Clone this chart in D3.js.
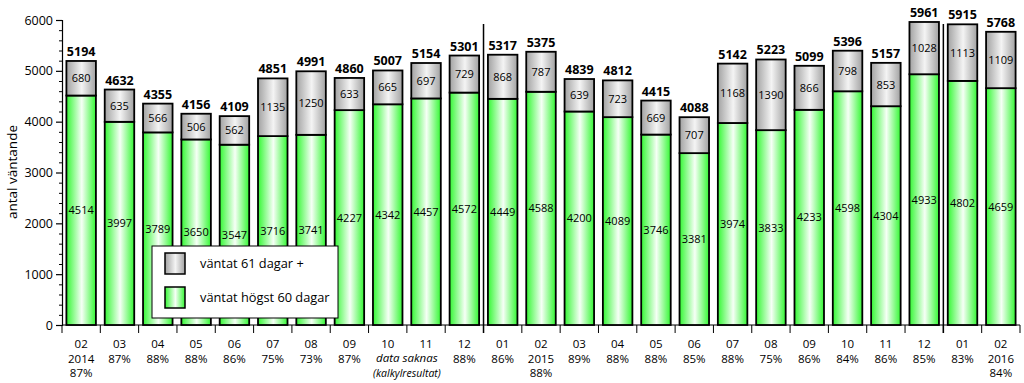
<!DOCTYPE html>
<html><head><meta charset="utf-8">
<script src="https://cdn.jsdelivr.net/npm/d3@7"></script>
<style>body{margin:0;background:#fff}svg{display:block}text{font-family:"Open Sans",sans-serif}</style>
</head><body><svg id="c" width="1024" height="383"></svg>
<script>
const months = ["02","03","04","05","06","07","08","09","10","11","12","01","02","03","04","05","06","07","08","09","10","11","12","01","02"];
const line2 = ["2014","87%","88%","88%","86%","75%","73%","87%","","","88%","86%","2015","89%","88%","88%","85%","88%","75%","86%","84%","86%","85%","83%","2016"];
const line3 = ["87%","","","","","","","","","","","","88%","","","","","","","","","","","","84%"];
const under60 = [4514,3997,3789,3650,3547,3716,3741,4227,4342,4457,4572,4449,4588,4200,4089,3746,3381,3974,3833,4233,4598,4304,4933,4802,4659];
const over61 = [680,635,566,506,562,1135,1250,633,665,697,729,868,787,639,723,669,707,1168,1390,866,798,853,1028,1113,1109];
const totals = [5194,4632,4355,4156,4109,4851,4991,4860,5007,5154,5301,5317,5375,4839,4812,4415,4088,5142,5223,5099,5396,5157,5961,5915,5768];
const yTicks = [0,1000,2000,3000,4000,5000,6000];
const yearBreaks = [11, 23];
const noteText = ["data saknas","(kalkylresultat)"];
const noteBetween = [8, 9];
const legendLabels = ["väntat 61 dagar +","väntat högst 60 dagar"];
const yLabel = "antal väntande";

const svg = d3.select("#c");
const L = 62, R = 1020, T = 20, B = 325;
const idx = d3.range(months.length);
const x = d3.scaleBand().domain(idx).range([L, R]).paddingInner(0.23).paddingOuter(0.115);
const y = d3.scaleLinear().domain([0, 6000]).range([B, T]);

const defs = svg.append("defs");
function grad(id, edge, mid){
  const g = defs.append("linearGradient").attr("id", id).attr("x1","0%").attr("x2","100%");
  g.append("stop").attr("offset","0%").attr("stop-color", edge);
  g.append("stop").attr("offset","52%").attr("stop-color", mid);
  g.append("stop").attr("offset","100%").attr("stop-color", edge);
}
grad("gG", "#34f834", "#f6fff6");
grad("gR", "#a2a2a2", "#f4f4f4");

// y axis
const ya = svg.append("g").attr("transform", `translate(${L},0)`)
  .call(d3.axisLeft(y).tickValues(yTicks).tickSize(6).tickPadding(3).tickFormat(d3.format("d")));
ya.selectAll("text").attr("font-size", 12.5).attr("fill", "#000").attr("font-family", '"Open Sans",sans-serif');
ya.select(".domain").attr("stroke", "#000").attr("stroke-width", 1.2);
ya.selectAll(".tick line").attr("stroke", "#000").attr("stroke-width", 1.2);
const minor = svg.append("g").attr("transform", `translate(${L},0)`)
  .call(d3.axisLeft(y).tickValues(d3.range(0, 6001, 200).filter(v => v % 1000)).tickSize(3).tickFormat(""));
minor.select(".domain").remove();
minor.selectAll(".tick line").attr("stroke", "#000").attr("stroke-width", 1);

svg.append("text").attr("transform", `translate(17,172) rotate(-90)`)
  .attr("text-anchor", "middle").attr("font-size", 13.5).text(yLabel);

// x axis
svg.append("line").attr("x1", L).attr("x2", R).attr("y1", B).attr("y2", B).attr("stroke", "#000").attr("stroke-width", 1.2);
const step = x.step();
const bounds = d3.range(months.length + 1).map(i => L + i * step);
svg.append("g").selectAll("line").data(bounds).join("line")
  .attr("x1", d => d).attr("x2", d => d).attr("y1", B).attr("y2", B + 8)
  .attr("stroke", "#000").attr("stroke-width", 1);

const xl = svg.append("g").attr("font-size", 11.5).attr("text-anchor", "middle");
idx.forEach(i => {
  const cx = x(i) + x.bandwidth() / 2;
  [months[i], line2[i], line3[i]].forEach((t, k) => {
    if (t) xl.append("text").attr("x", cx).attr("y", 348 + k * 14.5).text(t);
  });
});
const nx = (x(noteBetween[0]) + x(noteBetween[1]) + x.bandwidth()) / 2;
noteText.forEach((t, k) => {
  xl.append("text").attr("x", nx).attr("y", 362 + k * 14.5).attr("font-style", "italic")
    .attr("font-size", k ? 10.5 : 11.5).text(t);
});

// bars
const bars = svg.append("g");
idx.forEach(i => {
  const bx = x(i), bw = x.bandwidth();
  bars.append("rect").attr("x", bx).attr("width", bw).attr("y", y(under60[i])).attr("height", y(0) - y(under60[i]))
    .attr("fill", "url(#gG)").attr("stroke", "#000").attr("stroke-width", 1.8);
  bars.append("rect").attr("x", bx).attr("width", bw).attr("y", y(under60[i] + over61[i])).attr("height", y(under60[i]) - y(under60[i] + over61[i]))
    .attr("fill", "url(#gR)").attr("stroke", "#000").attr("stroke-width", 1.8);
  const cx = bx + bw / 2;
  bars.append("text").attr("x", cx).attr("y", (y(0) + y(under60[i])) / 2 + 4).attr("text-anchor", "middle")
    .attr("font-size", 11).text(under60[i]);
  bars.append("text").attr("x", cx).attr("y", (y(under60[i]) + y(under60[i] + over61[i])) / 2 + 4).attr("text-anchor", "middle")
    .attr("font-size", 11).text(over61[i]);
  bars.append("text").attr("x", cx).attr("y", y(totals[i]) - 5).attr("text-anchor", "middle")
    .attr("font-size", 12.5).attr("font-weight", "bold").text(totals[i]);
});

// year separators
yearBreaks.forEach(b => {
  const xx = L + b * step;
  svg.append("line").attr("x1", xx).attr("x2", xx).attr("y1", 24).attr("y2", B + 8)
    .attr("stroke", "#000").attr("stroke-width", 1.5);
});

// legend
const lg = svg.append("g");
lg.append("rect").attr("x", 152).attr("y", 246).attr("width", 186).attr("height", 72)
  .attr("fill", "#fff").attr("stroke", "#000").attr("stroke-width", 1);
[["url(#gR)", 253], ["url(#gG)", 287]].forEach(([f, yy], k) => {
  lg.append("rect").attr("x", 165).attr("y", yy).attr("width", 20).attr("height", 21)
    .attr("fill", f).attr("stroke", "#000").attr("stroke-width", 1.5);
  lg.append("text").attr("x", 200).attr("y", yy + 15).attr("font-size", 12.8).text(legendLabels[k]);
});
</script></body></html>
